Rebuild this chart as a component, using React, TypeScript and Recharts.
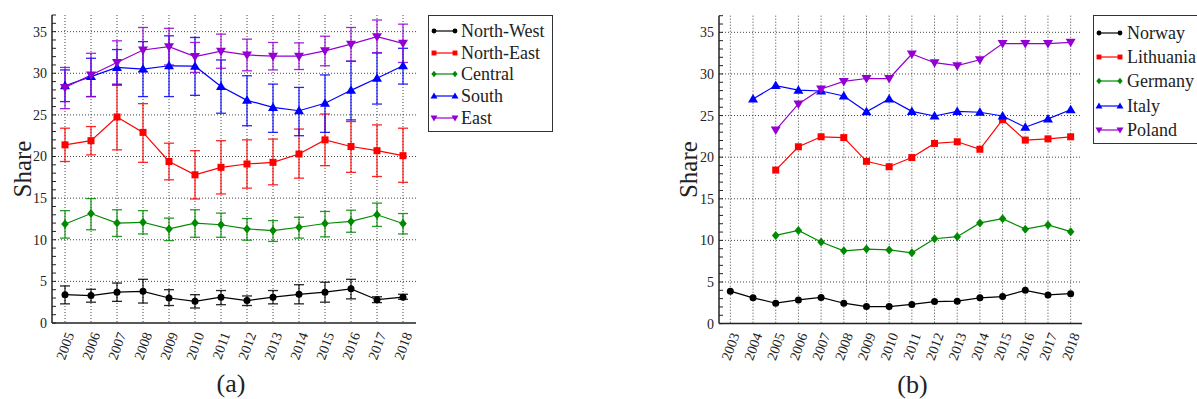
import React from "react";
import { LineChart, Line, XAxis, YAxis, CartesianGrid, ErrorBar } from "recharts";

const FONT = "'Liberation Serif', 'Times New Roman', Times, Tinos, 'DejaVu Serif', serif";
const INK = "#222";

// (a) regions, 2005-2018, with error bars
const yearsA = [2005, 2006, 2007, 2008, 2009, 2010, 2011, 2012, 2013, 2014, 2015, 2016, 2017, 2018];

const northWest = [3.4, 3.3, 3.7, 3.8, 3.0, 2.6, 3.1, 2.7, 3.1, 3.45, 3.7, 4.1, 2.8, 3.1];
const northWestLo = [2.3, 2.5, 2.6, 2.4, 2.1, 1.8, 2.2, 2.1, 2.3, 2.3, 2.5, 2.9, 2.45, 2.85];
const northWestHi = [4.45, 4.05, 4.8, 5.25, 4.0, 3.4, 3.9, 3.25, 3.9, 4.6, 4.9, 5.25, 3.15, 3.45];

const northEast = [21.4, 21.9, 24.75, 22.9, 19.4, 17.8, 18.7, 19.1, 19.3, 20.3, 22.0, 21.2, 20.7, 20.1];
const northEastLo = [19.4, 20.2, 20.8, 19.3, 17.2, 14.9, 15.5, 16.2, 16.6, 17.4, 18.9, 18.1, 17.6, 16.9];
const northEastHi = [23.4, 23.6, 28.6, 26.35, 21.6, 20.7, 21.9, 22.0, 22.1, 23.3, 25.1, 24.2, 23.8, 23.4];

const central = [11.9, 13.15, 12.0, 12.1, 11.3, 12.0, 11.8, 11.3, 11.1, 11.5, 11.95, 12.2, 13.0, 11.95];
const centralLo = [10.2, 11.2, 10.4, 10.7, 9.9, 10.3, 10.3, 9.95, 9.8, 10.2, 10.35, 10.9, 11.6, 10.7];
const centralHi = [13.5, 14.95, 13.6, 13.5, 12.6, 13.6, 13.2, 12.55, 12.3, 12.7, 13.4, 13.55, 14.4, 13.15];

const south = [28.5, 29.6, 30.7, 30.5, 30.9, 30.85, 28.4, 26.75, 25.9, 25.5, 26.4, 27.95, 29.4, 30.9];
const southLo = [26.6, 27.2, 28.6, 27.2, 27.2, 27.35, 25.2, 23.7, 22.9, 22.5, 22.9, 24.4, 26.3, 28.7];
const southHi = [30.4, 31.8, 32.85, 33.8, 34.5, 34.3, 31.6, 29.7, 28.7, 28.3, 29.8, 31.45, 32.45, 33.0];

const east = [28.3, 29.8, 31.3, 32.8, 33.2, 32.0, 32.65, 32.2, 32.05, 32.05, 32.7, 33.5, 34.4, 33.6];
const eastLo = [25.75, 27.2, 28.7, 30.2, 31.0, 30.1, 30.6, 30.3, 30.4, 30.45, 30.9, 31.45, 32.45, 31.3];
const eastHi = [30.7, 32.4, 33.9, 35.5, 35.4, 33.7, 34.7, 34.1, 33.7, 33.65, 34.45, 35.5, 36.4, 35.9];

// (b) countries, 2003-2018
const yearsB = [2003, 2004, 2005, 2006, 2007, 2008, 2009, 2010, 2011, 2012, 2013, 2014, 2015, 2016, 2017, 2018];

const norway = [3.9, 3.1, 2.45, 2.85, 3.15, 2.45, 2.05, 2.05, 2.3, 2.65, 2.7, 3.1, 3.25, 4.0, 3.45, 3.6];
const lithuania = [null, null, 18.45, 21.25, 22.45, 22.35, 19.5, 18.85, 19.95, 21.65, 21.85, 20.95, 24.5, 22.05, 22.2, 22.45];
const germany = [null, null, 10.6, 11.2, 9.8, 8.75, 8.95, 8.85, 8.5, 10.2, 10.45, 12.1, 12.6, 11.35, 11.85, 11.05];
const italy = [null, 27.0, 28.6, 28.05, 27.95, 27.35, 25.45, 27.0, 25.5, 24.95, 25.5, 25.4, 24.95, 23.6, 24.6, 25.7];
const poland = [null, null, 23.25, 26.4, 28.2, 29.1, 29.45, 29.45, 32.4, 31.35, 31.0, 31.7, 33.65, 33.65, 33.65, 33.8];

const yTicks = [0, 1, 2, 3, 4, 5, 6, 7, 8, 9, 10, 11, 12, 13, 14, 15, 16, 17, 18, 19, 20,
  21, 22, 23, 24, 25, 26, 27, 28, 29, 30, 31, 32, 33, 34, 35, 36, 37];
const yGrid = [5, 10, 15, 20, 25, 30, 35];

const rowsA = yearsA.map((year, i) => ({
  year,
  nw: northWest[i], nwErr: [northWest[i] - northWestLo[i], northWestHi[i] - northWest[i]],
  ne: northEast[i], neErr: [northEast[i] - northEastLo[i], northEastHi[i] - northEast[i]],
  ce: central[i], ceErr: [central[i] - centralLo[i], centralHi[i] - central[i]],
  so: south[i], soErr: [south[i] - southLo[i], southHi[i] - south[i]],
  ea: east[i], eaErr: [east[i] - eastLo[i], eastHi[i] - east[i]],
}));

const rowsB = yearsB.map((year, i) => ({
  year, no: norway[i], li: lithuania[i], de: germany[i], it: italy[i], pl: poland[i],
}));

type Shape = "circle" | "square" | "diamond" | "up" | "down";

const seriesA = [
  { key: "nw", name: "North-West", color: "#000000", shape: "circle" as Shape },
  { key: "ne", name: "North-East", color: "#ff0000", shape: "square" as Shape },
  { key: "ce", name: "Central", color: "#008a00", shape: "diamond" as Shape },
  { key: "so", name: "South", color: "#0000ff", shape: "up" as Shape },
  { key: "ea", name: "East", color: "#9400d3", shape: "down" as Shape },
];

const seriesB = [
  { key: "no", name: "Norway", color: "#000000", shape: "circle" as Shape },
  { key: "li", name: "Lithuania", color: "#ff0000", shape: "square" as Shape },
  { key: "de", name: "Germany", color: "#008a00", shape: "diamond" as Shape },
  { key: "it", name: "Italy", color: "#0000ff", shape: "up" as Shape },
  { key: "pl", name: "Poland", color: "#9400d3", shape: "down" as Shape },
];

function Marker({ shape, color, x, y, s = 1 }: { shape: Shape; color: string; x: number; y: number; s?: number }) {
  if (shape === "circle") return <circle cx={x} cy={y} r={3.5 * s} fill={color} />;
  if (shape === "square") return <rect x={x - 3.5 * s} y={y - 3.5 * s} width={7 * s} height={7 * s} fill={color} />;
  if (shape === "diamond") {
    const p = `${x},${y - 4.5 * s} ${x + 3.8 * s},${y} ${x},${y + 4.5 * s} ${x - 3.8 * s},${y}`;
    return <polygon points={p} fill={color} />;
  }
  if (shape === "up") {
    const p = `${x},${y - 5 * s} ${x + 5 * s},${y + 3.5 * s} ${x - 5 * s},${y + 3.5 * s}`;
    return <polygon points={p} fill={color} />;
  }
  const p = `${x},${y + 5 * s} ${x + 5 * s},${y - 3.5 * s} ${x - 5 * s},${y - 3.5 * s}`;
  return <polygon points={p} fill={color} />;
}

const makeDot = (shape: Shape, color: string) => (props: any) => {
  const { cx, cy, value, index } = props;
  if (cx == null || cy == null || value == null) return <g key={`e-${index}`} />;
  return (
    <g key={`d-${index}`}>
      <Marker shape={shape} color={color} x={cx} y={cy} />
    </g>
  );
};

const YearTick = (props: any) => {
  const { x, y, payload } = props;
  return (
    <g transform={`translate(${x},${y})`}>
      <text
        x={0}
        y={0}
        dy="0.71em"
        transform="rotate(-70)"
        textAnchor="end"
        fontSize={14}
        fontFamily={FONT}
        fill={INK}
      >
        {payload.value}
      </text>
    </g>
  );
};

function LegendBox({ left, top, width, height, firstY, step, textX, items }: any) {
  return (
    <div
      style={{
        position: "absolute",
        left,
        top,
        width,
        height,
        boxSizing: "border-box",
        border: "1.5px solid #333",
        background: "#fff",
      }}
    >
      {items.map((it: any, i: number) => (
        <div key={it.key} style={{ position: "absolute", left: 0, top: firstY + i * step - 12, height: 24, width: 200 }}>
          <svg width={30} height={24} style={{ position: "absolute", left: 0, top: 0 }}>
            <line x1={5} y1={12} x2={26} y2={12} stroke={it.color} strokeWidth={1.2} />
            <Marker shape={it.shape} color={it.color} x={5} y={12} s={0.7} />
            <Marker shape={it.shape} color={it.color} x={26} y={12} s={0.7} />
          </svg>
          <span
            style={{
              position: "absolute",
              left: textX,
              top: 0,
              lineHeight: "24px",
              fontSize: 18,
              fontFamily: FONT,
              color: INK,
              whiteSpace: "nowrap",
            }}
          >
            {it.name}
          </span>
        </div>
      ))}
    </div>
  );
}

function Panel({ rows, years, series, errors, width, margin, caption, captionDx }: any) {
  const domain = [years[0] - 0.5, years[years.length - 1] + 0.5];
  return (
    <LineChart width={width} height={399} data={rows} margin={margin}>
      <CartesianGrid
        stroke="#444"
        strokeDasharray="1 2"
        horizontalValues={yGrid}
        verticalValues={years}
      />
      <XAxis
        dataKey="year"
        type="number"
        domain={domain}
        ticks={years}
        interval={0}
        allowDataOverflow
        height={50}
        tickLine={false}
        axisLine={{ stroke: INK, strokeWidth: 1.5 }}
        tick={<YearTick />}
        label={{
          content: (p: any) => {
            const vb = p.viewBox;
            return (
              <text
                x={vb.x + vb.width / 2 + captionDx}
                y={vb.y + 69}
                textAnchor="middle"
                fontSize={26}
                fontFamily={FONT}
                fill={INK}
              >
                {caption}
              </text>
            );
          },
        }}
      />
      <XAxis
        xAxisId="top"
        dataKey="year"
        type="number"
        orientation="top"
        domain={domain}
        allowDataOverflow
        height={0}
        tick={false}
        tickLine={false}
        axisLine={{ stroke: INK, strokeWidth: 1.5 }}
      />
      <YAxis
        type="number"
        domain={[0, 37]}
        ticks={yTicks}
        interval={0}
        allowDataOverflow
        width={40}
        tickSize={-4}
        tickMargin={9}
        tickFormatter={(v: number) => (v % 5 === 0 ? String(v) : "")}
        tick={{ fontSize: 14, fontFamily: FONT, fill: INK }}
        tickLine={{ stroke: INK }}
        axisLine={{ stroke: INK, strokeWidth: 1.5 }}
        label={{
          content: (p: any) => {
            const vb = p.viewBox;
            const cx = vb.x + 10;
            const cy = vb.y + vb.height / 2;
            return (
              <text
                x={cx}
                y={cy}
                transform={`rotate(-90, ${cx}, ${cy})`}
                textAnchor="middle"
                dominantBaseline="central"
                fontSize={25}
                fontFamily={FONT}
                fill={INK}
              >
                Share
              </text>
            );
          },
        }}
      />
      <YAxis
        yAxisId="right"
        orientation="right"
        type="number"
        domain={[0, 37]}
        ticks={yTicks}
        interval={0}
        allowDataOverflow
        width={0}
        tickSize={-4}
        tick={false}
        tickLine={{ stroke: INK }}
        axisLine={{ stroke: INK, strokeWidth: 1.5 }}
      />
      {series.map((s: any) => (
        <Line
          key={s.key}
          dataKey={s.key}
          name={s.name}
          stroke={s.color}
          strokeWidth={1.2}
          dot={makeDot(s.shape, s.color)}
          activeDot={false}
          connectNulls={false}
          isAnimationActive={false}
        >
          {errors && (
            <ErrorBar
              dataKey={`${s.key}Err`}
              direction="y"
              width={5}
              stroke={s.color}
              strokeWidth={1.3}
              strokeOpacity={0.85}
            />
          )}
        </Line>
      ))}
    </LineChart>
  );
}

export default function App() {
  return (
    <div style={{ position: "absolute", left: 0, top: 0, width: 1197, height: 399, background: "#fff", overflow: "hidden", fontFamily: FONT }}>
      <div style={{ position: "absolute", left: 0, top: 0 }}>
        <Panel
          rows={rowsA}
          years={yearsA}
          series={seriesA}
          errors
          width={560}
          margin={{ top: 15, right: 144, bottom: 26, left: 12 }}
          caption="(a)"
          captionDx={-3}
        />
      </div>
      <div style={{ position: "absolute", left: 600, top: 0 }}>
        <Panel
          rows={rowsB}
          years={yearsB}
          series={seriesB}
          errors={false}
          width={597}
          margin={{ top: 15.7, right: 115, bottom: 25.4, left: 79 }}
          caption="(b)"
          captionDx={12}
        />
      </div>
      <LegendBox left={428} top={15} width={125} height={117} firstY={15} step={21.7} textX={32} items={seriesA} />
      <LegendBox left={1093} top={15} width={130} height={129} firstY={17} step={24.2} textX={33} items={seriesB} />
    </div>
  );
}
